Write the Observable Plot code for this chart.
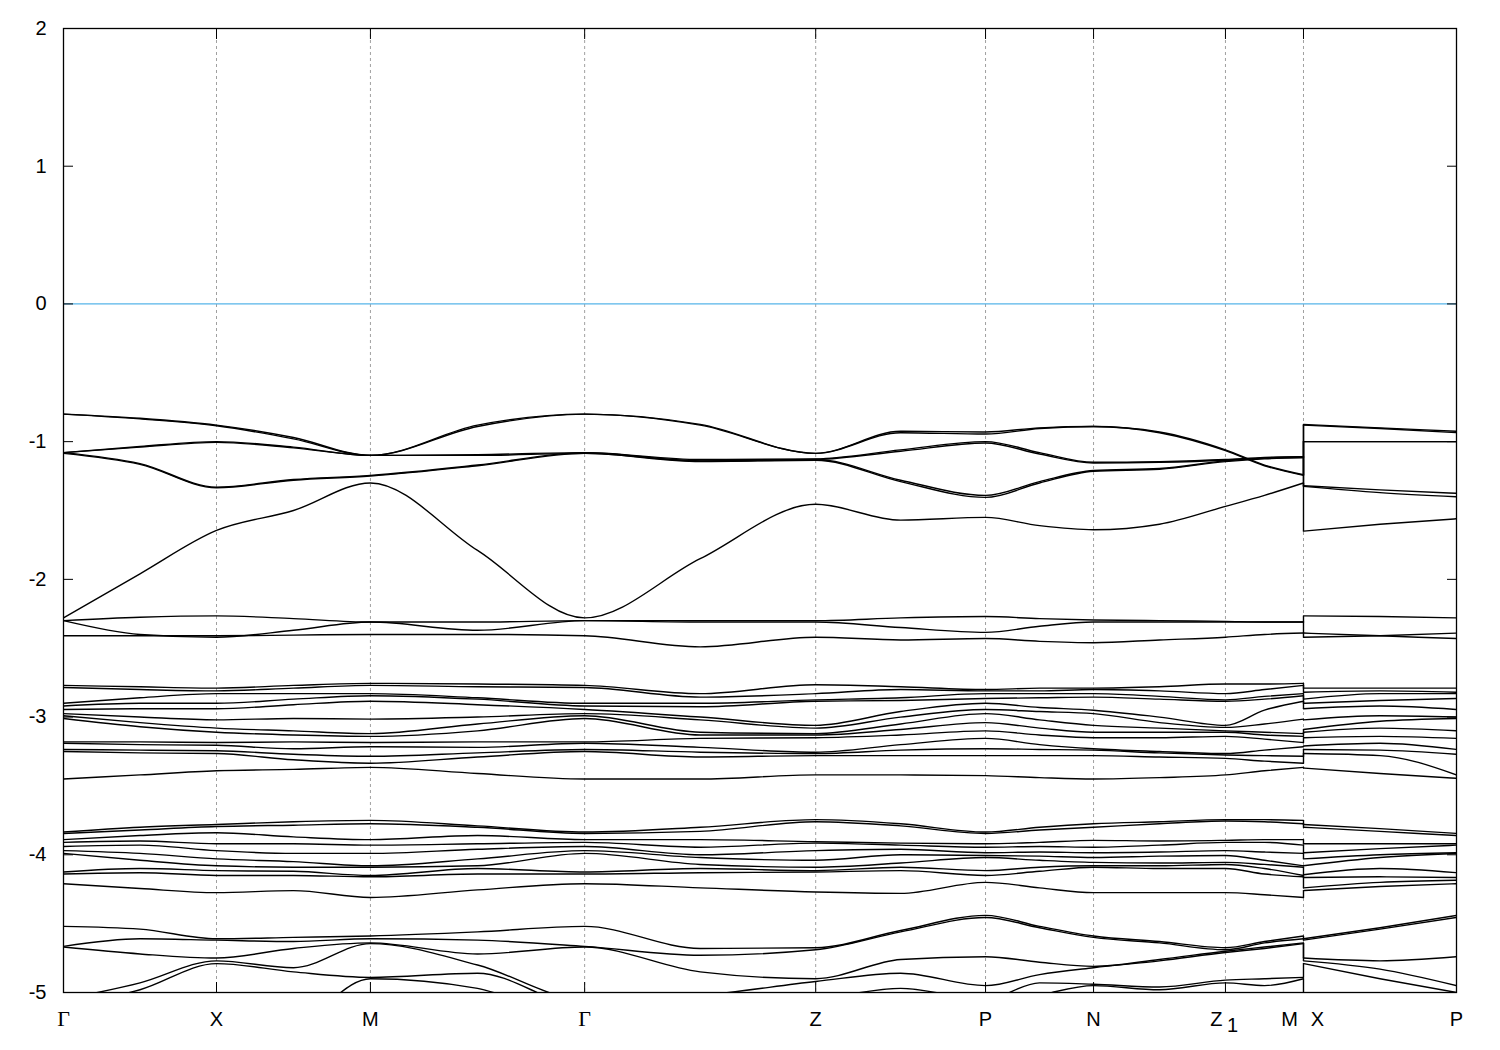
<!DOCTYPE html>
<html><head><meta charset="utf-8">
<script src="https://cdn.jsdelivr.net/npm/d3@7"></script>
<script src="https://cdn.jsdelivr.net/npm/@observablehq/plot@0.6"></script>
<style>body{margin:0;background:#fff}#chart svg{display:block}</style>
</head><body><div id="chart"></div>
<script>
// High-symmetry points (path position) and labels
const kLabels = ["Γ","X","M","Γ","Z","P","N","Z1","M|X","P"];
const kPos = [0, 0.5, 1.003, 1.703, 2.458, 3.013, 3.366, 3.797, 4.052, 4.552];
const yTicks = [-5, -4, -3, -2, -1, 0, 1, 2];
const fermiLevel = [0];

// Bands: values at Γ,½,X,½,M,½,Γ,½,Z,½,P,½,N,½,Z1,½,M | X,½,P
const bandT1 = [-0.80,-0.83,-0.88,-0.97,-1.10,-0.88,-0.80,-0.875,-1.085,-0.925,-0.93,-0.90,-0.89,-0.93,-1.06,-1.17,-1.24, -0.875,-0.90,-0.925];
const bandT2 = [-0.80,-0.835,-0.885,-0.98,-1.10,-0.89,-0.80,-0.88,-1.085,-0.935,-0.945,-0.905,-0.89,-0.935,-1.065,-1.175,-1.245, -0.88,-0.905,-0.935];
const bandT3 = [-1.08,-1.035,-1.00,-1.04,-1.10,-1.095,-1.08,-1.13,-1.125,-1.06,-1.00,-1.08,-1.15,-1.145,-1.13,-1.115,-1.11, -1.00,-1.00,-1.00];
const bandT4 = [-1.08,-1.04,-1.005,-1.045,-1.10,-1.10,-1.085,-1.14,-1.13,-1.07,-1.01,-1.09,-1.155,-1.15,-1.135,-1.12,-1.115, -1.00,-1.00,-1.00];
const bandT5 = [-1.08,-1.16,-1.33,-1.275,-1.245,-1.17,-1.08,-1.14,-1.13,-1.28,-1.39,-1.29,-1.21,-1.195,-1.14,-1.12,-1.11, -1.32,-1.35,-1.375];
const bandT6 = [-1.085,-1.165,-1.335,-1.28,-1.25,-1.175,-1.085,-1.145,-1.135,-1.29,-1.405,-1.30,-1.215,-1.20,-1.145,-1.125,-1.115, -1.325,-1.37,-1.40];
const bandT7 = [-2.28,-1.96,-1.645,-1.50,-1.30,-1.79,-2.28,-1.85,-1.455,-1.57,-1.55,-1.61,-1.64,-1.60,-1.47,-1.39,-1.30, -1.65,-1.60,-1.56];
const bandB1 = [-2.30,-2.275,-2.265,-2.285,-2.31,-2.31,-2.30,-2.30,-2.30,-2.28,-2.27,-2.285,-2.295,-2.30,-2.305,-2.31,-2.31, -2.265,-2.27,-2.28];
const bandB2 = [-2.30,-2.40,-2.42,-2.37,-2.31,-2.37,-2.30,-2.31,-2.31,-2.35,-2.385,-2.34,-2.31,-2.31,-2.31,-2.31,-2.31, -2.39,-2.41,-2.43];
const bandB3 = [-2.41,-2.41,-2.41,-2.405,-2.40,-2.40,-2.41,-2.49,-2.42,-2.44,-2.43,-2.45,-2.46,-2.44,-2.42,-2.40,-2.39, -2.42,-2.41,-2.39];

// Dense groups: one row per path point, energies listed top to bottom
const groupC = [
  [-2.77,-2.785,-2.90,-2.92,-2.945,-2.975,-2.99,-3.01,-3.18,-3.19,-3.235,-3.25,-3.45],
  [-2.78,-2.80,-2.86,-2.90,-2.94,-3.00,-3.04,-3.07,-3.18,-3.20,-3.24,-3.26,-3.42],
  [-2.79,-2.81,-2.83,-2.90,-2.94,-3.02,-3.08,-3.11,-3.185,-3.205,-3.245,-3.265,-3.39],
  [-2.77,-2.79,-2.83,-2.87,-2.91,-3.01,-3.10,-3.13,-3.18,-3.23,-3.27,-3.31,-3.38],
  [-2.755,-2.77,-2.83,-2.845,-2.885,-3.015,-3.12,-3.14,-3.185,-3.215,-3.285,-3.335,-3.365],
  [-2.76,-2.78,-2.86,-2.87,-2.91,-3.00,-3.05,-3.10,-3.18,-3.22,-3.26,-3.29,-3.41],
  [-2.77,-2.785,-2.90,-2.92,-2.945,-2.975,-2.99,-3.01,-3.18,-3.19,-3.235,-3.25,-3.45],
  [-2.83,-2.855,-2.90,-2.925,-3.00,-3.02,-3.11,-3.13,-3.155,-3.22,-3.255,-3.29,-3.45],
  [-2.765,-2.83,-2.875,-2.885,-3.06,-3.08,-3.12,-3.13,-3.15,-3.255,-3.265,-3.28,-3.42],
  [-2.78,-2.80,-2.86,-2.88,-2.96,-3.00,-3.05,-3.09,-3.13,-3.20,-3.24,-3.28,-3.42],
  [-2.80,-2.81,-2.83,-2.865,-2.90,-2.945,-2.975,-3.04,-3.10,-3.155,-3.23,-3.28,-3.425],
  [-2.79,-2.81,-2.83,-2.86,-2.93,-2.96,-3.02,-3.08,-3.13,-3.20,-3.235,-3.28,-3.44],
  [-2.79,-2.80,-2.83,-2.855,-2.95,-2.975,-3.06,-3.11,-3.15,-3.23,-3.24,-3.28,-3.45],
  [-2.78,-2.81,-2.85,-2.87,-3.00,-3.04,-3.08,-3.11,-3.15,-3.25,-3.26,-3.29,-3.44],
  [-2.76,-2.83,-2.875,-2.885,-3.06,-3.075,-3.10,-3.11,-3.14,-3.265,-3.275,-3.30,-3.42],
  [-2.76,-2.80,-2.85,-2.87,-2.95,-3.05,-3.11,-3.13,-3.16,-3.24,-3.28,-3.32,-3.39],
  [-2.755,-2.77,-2.83,-2.845,-2.885,-3.015,-3.12,-3.14,-3.185,-3.215,-3.285,-3.335,-3.365],
  [-2.79,-2.82,-2.87,-2.90,-2.94,-3.02,-3.09,-3.11,-3.15,-3.21,-3.235,-3.265,-3.37],
  [-2.79,-2.81,-2.83,-2.88,-2.92,-2.99,-3.03,-3.08,-3.14,-3.19,-3.24,-3.28,-3.41],
  [-2.79,-2.82,-2.83,-2.865,-2.945,-3.00,-3.01,-3.10,-3.155,-3.235,-3.27,-3.42,-3.445]
];
const groupD = [
  [-3.835,-3.845,-3.89,-3.91,-3.94,-3.97,-3.99,-4.125,-4.14,-4.21],
  [-3.80,-3.82,-3.86,-3.90,-3.93,-3.99,-4.04,-4.10,-4.13,-4.245],
  [-3.78,-3.795,-3.84,-3.92,-3.97,-4.03,-4.08,-4.115,-4.15,-4.275],
  [-3.76,-3.785,-3.87,-3.92,-3.99,-4.05,-4.09,-4.12,-4.15,-4.26],
  [-3.75,-3.775,-3.89,-3.93,-3.99,-4.08,-4.09,-4.15,-4.16,-4.31],
  [-3.79,-3.80,-3.86,-3.92,-3.96,-4.03,-4.08,-4.10,-4.14,-4.255],
  [-3.835,-3.845,-3.89,-3.91,-3.94,-3.97,-3.99,-4.125,-4.14,-4.21],
  [-3.80,-3.83,-3.89,-3.945,-4.00,-4.02,-4.07,-4.10,-4.13,-4.24],
  [-3.745,-3.76,-3.905,-3.915,-3.97,-4.04,-4.09,-4.115,-4.125,-4.27],
  [-3.775,-3.79,-3.915,-3.93,-3.96,-4.00,-4.06,-4.09,-4.115,-4.28],
  [-3.835,-3.845,-3.92,-3.945,-3.985,-4.005,-4.02,-4.115,-4.15,-4.20],
  [-3.80,-3.82,-3.91,-3.94,-3.98,-4.01,-4.04,-4.09,-4.12,-4.24],
  [-3.775,-3.80,-3.895,-3.945,-3.985,-4.02,-4.055,-4.08,-4.09,-4.275],
  [-3.76,-3.775,-3.90,-3.93,-3.98,-4.01,-4.06,-4.08,-4.10,-4.275],
  [-3.745,-3.755,-3.895,-3.91,-3.97,-4.005,-4.055,-4.07,-4.10,-4.275],
  [-3.745,-3.76,-3.89,-3.91,-3.98,-4.04,-4.07,-4.10,-4.14,-4.29],
  [-3.75,-3.775,-3.89,-3.93,-3.99,-4.08,-4.09,-4.15,-4.16,-4.31],
  [-3.78,-3.80,-3.92,-3.985,-4.03,-4.08,-4.145,-4.165,-4.24,-4.26],
  [-3.81,-3.83,-3.92,-3.955,-4.00,-4.02,-4.10,-4.16,-4.20,-4.23],
  [-3.845,-3.86,-3.92,-3.93,-3.985,-3.99,-4.13,-4.165,-4.185,-4.21]
];
const groupE = [
  [-4.52,-4.665,-4.67,-5.05,-5.10,-5.20,-5.30],
  [-4.54,-4.61,-4.72,-4.93,-4.98,-5.20,-5.30],
  [-4.61,-4.62,-4.75,-4.77,-4.79,-5.20,-5.30],
  [-4.60,-4.63,-4.68,-4.82,-4.85,-5.20,-5.30],
  [-4.59,-4.61,-4.64,-4.645,-4.89,-4.90,-5.30],
  [-4.56,-4.62,-4.72,-4.80,-4.86,-4.97,-5.10],
  [-4.52,-4.665,-4.67,-5.05,-5.10,-5.20,-5.30],
  [-4.68,-4.73,-4.85,-5.02,-5.10,-5.20,-5.30],
  [-4.675,-4.69,-4.90,-4.92,-5.05,-5.20,-5.30],
  [-4.55,-4.56,-4.76,-4.86,-4.97,-5.10,-5.30],
  [-4.44,-4.455,-4.74,-4.95,-5.05,-5.10,-5.20],
  [-4.52,-4.53,-4.78,-4.87,-4.93,-5.02,-5.20],
  [-4.59,-4.60,-4.81,-4.82,-4.94,-4.95,-5.20],
  [-4.63,-4.64,-4.76,-4.77,-4.96,-4.98,-5.20],
  [-4.675,-4.69,-4.70,-4.71,-4.91,-4.93,-5.20],
  [-4.63,-4.64,-4.67,-4.68,-4.90,-4.95,-5.20],
  [-4.59,-4.61,-4.64,-4.645,-4.89,-4.90,-5.30],
  [-4.61,-4.62,-4.75,-4.77,-4.79,-5.20,-5.30],
  [-4.53,-4.54,-4.77,-4.83,-4.90,-5.10,-5.30],
  [-4.44,-4.455,-4.74,-4.95,-5.00,-5.10,-5.20]
];

// ---- build tables ----
const gridX = [];
for (let s = 0; s < 8; s++) gridX.push(kPos[s], (kPos[s] + kPos[s + 1]) / 2);
gridX.push(kPos[8], kPos[8], (kPos[8] + kPos[9]) / 2, kPos[9]);
const transpose = rows => rows[0].map((_, j) => rows.map(r => r[j]));
const bands = [bandT1, bandT2, bandT3, bandT4, bandT5, bandT6, bandT7, bandB1, bandB2, bandB3,
  ...transpose(groupC), ...transpose(groupD), ...transpose(groupE)];
const lineData = [];
const connectors = [];
bands.forEach((b, i) => {
  b.forEach((e, j) => lineData.push({k: gridX[j], energy: e, seg: i + "-" + (j < 17 ? 0 : 1)}));
  connectors.push({k: kPos[8], e1: b[16], e2: b[17]});
});
const labelData = kLabels.map((l, i) => ({k: kPos[i], label: l}));
const greek = labelData.filter(d => d.label === "Γ");
const latin = labelData.filter(d => d.label.length === 1 && d.label !== "Γ");
const z1 = labelData.filter(d => d.label === "Z1");
const mx = labelData.filter(d => d.label === "M|X");

const sans = '"Liberation Sans", Arial, Helvetica, sans-serif';
const fs = 20;
const ly = 33;
const chart = Plot.plot({
  width: 1500, height: 1050,
  marginLeft: 63, marginRight: 44, marginTop: 28, marginBottom: 58,
  x: {domain: [kPos[0], kPos[kPos.length - 1]], axis: null},
  y: {domain: [-5, 2], axis: null},
  style: {fontFamily: sans, fontSize: fs + "px", background: "#fff", color: "#000"},
  marks: [
    Plot.ruleX(kPos.slice(1, -1), {stroke: "#a0a0a0", strokeWidth: 1, strokeDasharray: "3,3"}),
    Plot.ruleY(fermiLevel, {stroke: "#56b4e9", strokeWidth: 1.3}),
    Plot.line(lineData, {x: "k", y: "energy", z: "seg", curve: "monotone-x", stroke: "#000", strokeWidth: 1.4, clip: true}),
    Plot.link(connectors, {x1: "k", x2: "k", y1: "e1", y2: "e2", stroke: "#000", strokeWidth: 1.4, clip: true}),
    Plot.frame({stroke: "#000", strokeWidth: 1.3}),
    Plot.axisY(yTicks, {anchor: "left", tickSize: 10, dx: 10, tickFormat: () => "", label: null, stroke: "#000"}),
    Plot.axisY(yTicks, {anchor: "right", tickSize: 10, dx: -10, tickFormat: () => "", label: null, stroke: "#000"}),
    Plot.axisX(kPos, {anchor: "bottom", tickSize: 10, dy: -10, tickFormat: () => "", label: null, stroke: "#000"}),
    Plot.axisX(kPos, {anchor: "top", tickSize: 10, dy: 10, tickFormat: () => "", label: null, stroke: "#000"}),
    Plot.axisY(yTicks, {anchor: "left", tickSize: 0, tickPadding: 17, tickFormat: d => String(d), label: null, fontSize: fs, fill: "#000"}),
    Plot.text(greek, {x: "k", text: "label", frameAnchor: "bottom", dy: ly, fontSize: fs + 2, fontFamily: '"Liberation Serif", "Times New Roman", serif', fill: "#000"}),
    Plot.text(latin, {x: "k", text: "label", frameAnchor: "bottom", dy: ly, fontSize: fs, fill: "#000"}),
    Plot.text(z1, {x: "k", text: () => "Z", frameAnchor: "bottom", dy: ly, dx: -9, fontSize: fs, fill: "#000"}),
    Plot.text(z1, {x: "k", text: () => "1", frameAnchor: "bottom", dy: ly + 6, dx: 7, fontSize: fs, fill: "#000"}),
    Plot.text(mx, {x: "k", text: () => "M", frameAnchor: "bottom", dy: ly, dx: -14, fontSize: fs, fill: "#000"}),
    Plot.text(mx, {x: "k", text: () => "X", frameAnchor: "bottom", dy: ly, dx: 14, fontSize: fs, fill: "#000"})
  ]
});
document.getElementById("chart").appendChild(chart);
</script>
</body></html>
